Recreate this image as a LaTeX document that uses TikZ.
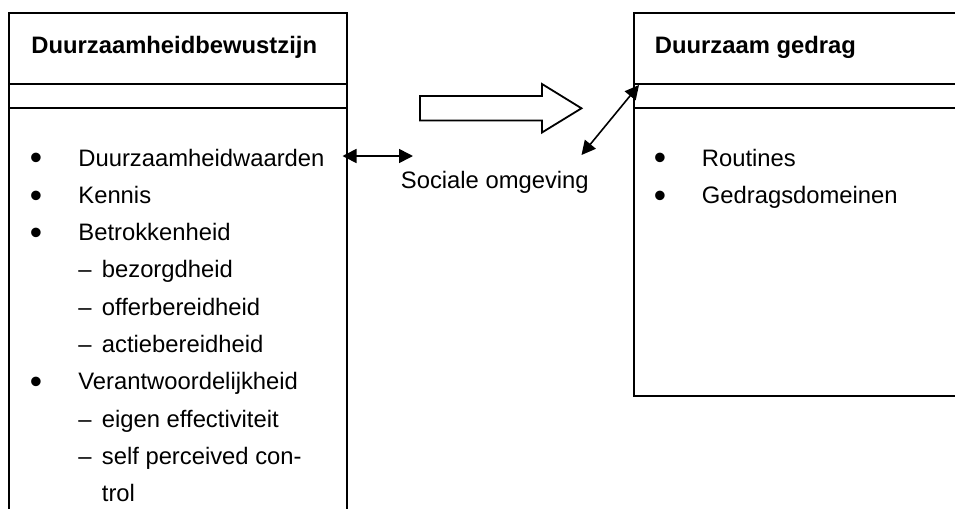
\documentclass[tikz,border=0pt]{standalone}
\usepackage{fontspec}
\setmainfont{Liberation Sans}
\usetikzlibrary{arrows.meta}
\begin{document}
\begin{tikzpicture}[x=0.5pt,y=-0.5pt,
  frame/.style={line width=1pt},
  txt/.style={anchor=base west,inner sep=0pt,font=\fontsize{11.9}{14}\selectfont},
  head/.style={txt,font=\fontsize{11.9}{14}\selectfont\bfseries},
  bul/.style={anchor=base,inner sep=0pt,yshift=-1.9pt,font=\fontsize{17.5}{20}\selectfont},
  link/.style={line width=0.8pt,{Triangle[length=7pt,width=7pt]}-{Triangle[length=7pt,width=7pt]}},
  bigarrow/.style={line width=0.9pt,fill=white,line join=miter}]
\useasboundingbox (0,0) rectangle (955,509);

% left column: open at the bottom
\draw[frame] (9,512) -- (9,12.5) -- (346.5,12.5) -- (346.5,512);
\draw[frame] (9,84) -- (346.5,84) (9,108) -- (346.5,108);

% right column: open at the right
\draw[frame] (960,12.5) -- (633.5,12.5) -- (633.5,396) -- (960,396);
\draw[frame] (633.5,84) -- (960,84) (633.5,108) -- (960,108);

% headings
\node[head] (hL) at (31,53) {Duurzaamheidbewustzijn};
\node[head] (hR) at (654.5,53) {Duurzaam gedrag};

% left list
\node[bul] (b1) at (36,166) {•};
\node[txt] (l1) at (78,166) {Duurzaamheidwaarden};
\node[bul] (b2) at (36,203.3) {•};
\node[txt] (l2) at (78,203.3) {Kennis};
\node[bul] (b3) at (36,240.6) {•};
\node[txt] (l3) at (78,240.6) {Betrokkenheid};
\node[txt] (d1) at (78,277.9) {–};
\node[txt] (l4) at (101.5,277.9) {bezorgdheid};
\node[txt] (d2) at (78,315.2) {–};
\node[txt] (l5) at (101.5,315.2) {offerbereidheid};
\node[txt] (d3) at (78,352.5) {–};
\node[txt] (l6) at (101.5,352.5) {actiebereidheid};
\node[bul] (b4) at (36,389.8) {•};
\node[txt] (l7) at (78,389.8) {Verantwoordelijkheid};
\node[txt] (d4) at (78,427.1) {–};
\node[txt] (l8) at (101.5,427.1) {eigen effectiviteit};
\node[txt] (d5) at (78,464.4) {–};
\node[txt] (l9) at (101.5,464.4) {self perceived con-};
\node[txt] (l10) at (101.5,501.7) {trol};

% right list
\node[bul] (r1b) at (660,166) {•};
\node[txt] (r1) at (701.5,166) {Routines};
\node[bul] (r2b) at (660,203.3) {•};
\node[txt] (r2) at (701.5,203.3) {Gedragsdomeinen};

% middle
\node[txt] (soc) at (400.5,188) {Sociale omgeving};

% big hollow arrow
\draw[bigarrow] (420,96) -- (542,96) -- (542,84) -- (581.5,108.3) -- (542,132.5) -- (542,120.5) -- (420,120.5) -- cycle;

% double-headed links
\coordinate (p1) at (342.5,156);
\coordinate (p2) at (413,156);
\coordinate (p3) at (581.5,155);
\coordinate (p4) at (639,85);
\draw[link] (p1) -- (p2);
\draw[link] (p3) -- (p4);
\end{tikzpicture}
\end{document}
